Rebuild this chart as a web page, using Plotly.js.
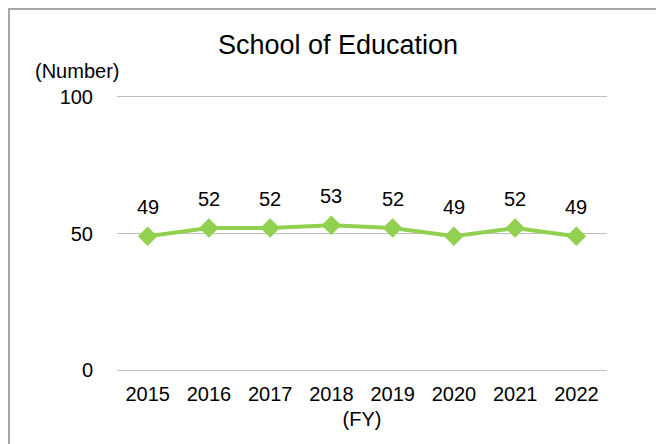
<!DOCTYPE html>
<html>
<head>
<meta charset="utf-8">
<script src="https://cdn.plot.ly/plotly-3.0.1.min.js"></script>
<style>
  html, body { margin: 0; padding: 0; background: #fff; }
  #wrap { position: relative; width: 656px; height: 444px; overflow: hidden; }
  #chart { position: absolute; left: 0; top: 0; width: 656px; height: 444px; }
  #frame { position: absolute; left: 8px; top: 8px; width: 700px; height: 500px;
           border-left: 2px solid #a6a6a6; border-top: 2px solid #a6a6a6; pointer-events: none; }
</style>
</head>
<body>
<div id="wrap">
  <div id="chart"></div>
  <div id="frame"></div>
</div>
<script>
const categories = ["2015", "2016", "2017", "2018", "2019", "2020", "2021", "2022"];
const values = [49, 52, 52, 53, 52, 49, 52, 49];
const yTicks = [0, 50, 100];
const titleText = "School of Education";
const yUnit = "(Number)";
const xUnit = "(FY)";

const font = "Liberation Sans, Arial, sans-serif";
const green = "#92D050";
const fs = 20;

const trace = {
  x: categories,
  y: values,
  type: "scatter",
  mode: "lines+markers",
  line: { color: green, width: 4 },
  marker: { symbol: "diamond", size: 15, color: green },
  cliponaxis: false,
  hoverinfo: "skip"
};

// category axis: annotation x given as category index
const labelAnnotations = categories.map((c, i) => ({
  x: i, y: values[i], xref: "x", yref: "y",
  text: String(values[i]),
  showarrow: false,
  xanchor: "center", yanchor: "middle",
  yshift: 29,
  font: { family: font, size: fs, color: "#000" }
}));

const layout = {
  width: 656,
  height: 444,
  margin: { l: 117, r: 49, t: 95, b: 72 },
  paper_bgcolor: "#fff",
  plot_bgcolor: "#fff",
  showlegend: false,
  font: { family: font, size: fs, color: "#000" },
  title: {
    text: titleText,
    font: { family: font, size: 27, color: "#000" },
    x: 338 / 656, xanchor: "center", xref: "container",
    y: 1 - 45 / 444, yanchor: "middle", yref: "container"
  },
  xaxis: {
    type: "category",
    range: [-0.5, categories.length - 0.5],
    showgrid: false,
    zeroline: false,
    showline: false,
    ticks: "",
    ticklabelstandoff: 8,
    tickfont: { family: font, size: fs, color: "#000" },
    title: { text: xUnit, font: { family: font, size: fs, color: "#000" }, standoff: 7 },
    fixedrange: true
  },
  yaxis: {
    range: [-0.6, 100.6],
    tickvals: yTicks,
    ticktext: yTicks.map(String),
    showgrid: true,
    gridcolor: "#c0c0c0",
    gridwidth: 1.5,
    zeroline: false,
    showline: false,
    ticks: "",
    ticklabelstandoff: 23,
    tickfont: { family: font, size: fs, color: "#000" },
    fixedrange: true
  },
  annotations: labelAnnotations.concat([
    {
      text: yUnit,
      xref: "paper", yref: "paper",
      x: (77 - 117) / 490, y: (370 - 73) / 273,
      xanchor: "center", yanchor: "middle",
      showarrow: false,
      font: { family: font, size: fs, color: "#000" }
    }
  ])
};

Plotly.newPlot("chart", [trace], layout, { displayModeBar: false, staticPlot: true });
</script>
</body>
</html>
